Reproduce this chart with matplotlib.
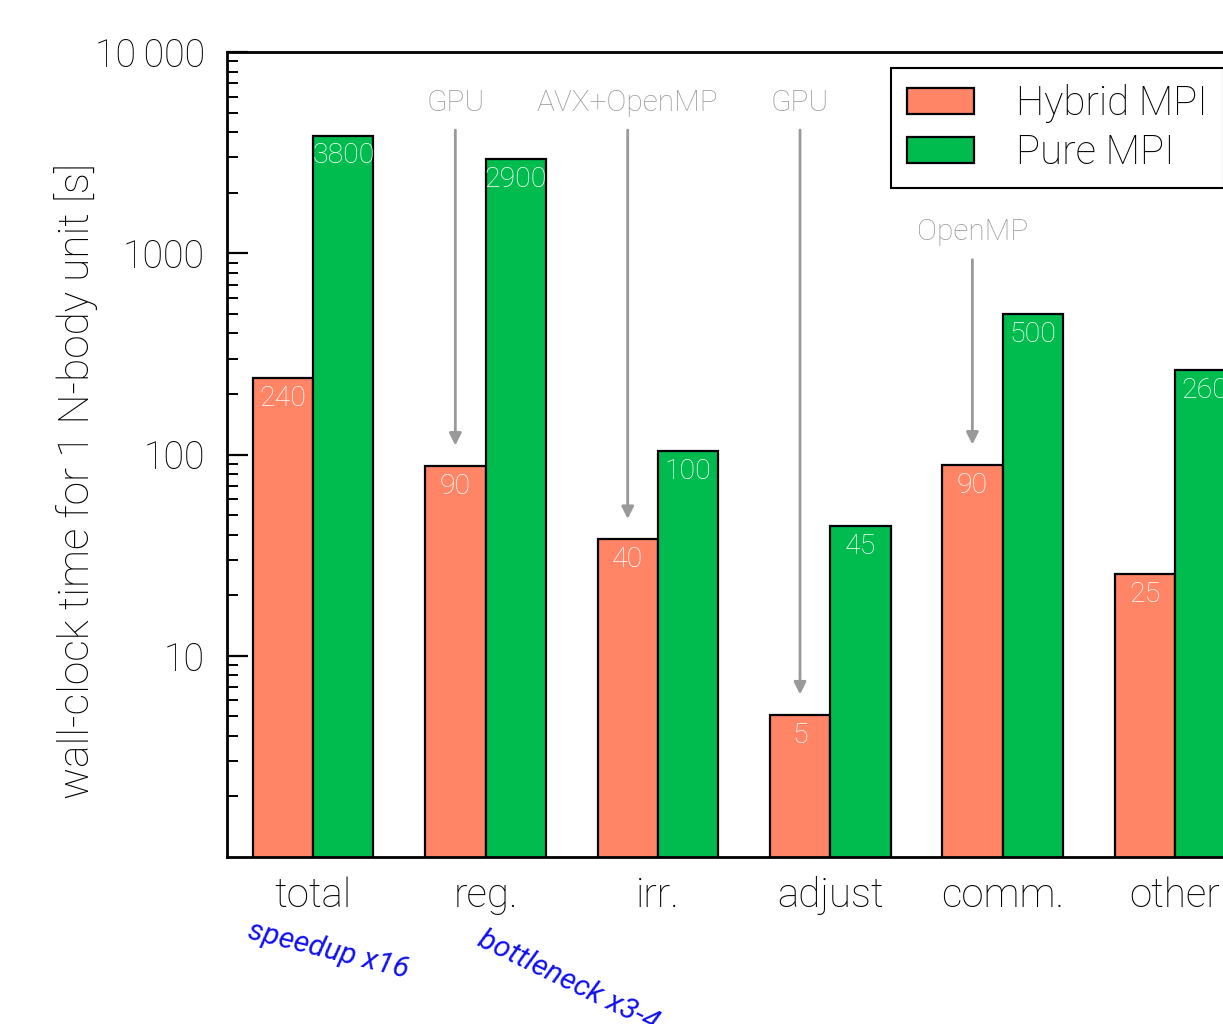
import numpy as np
import matplotlib
matplotlib.use("Agg")
import matplotlib.pyplot as plt
from matplotlib.ticker import FixedLocator, FixedFormatter, LogLocator, NullFormatter

# data
categories = ["total", "reg.", "irr.", "adjust", "comm.", "other"]
hybrid = [240, 88, 38, 5.1, 89, 25.5]
pure = [3850, 2950, 104, 44, 500, 262]
hybrid_labels = ["240", "90", "40", "5", "90", "25"]
pure_labels = ["3800", "2900", "100", "45", "500", "260"]

# optimisation notes: (category index, text, text height, arrow start)
notes = [(1, "GPU", 5600, 4100),
         (2, "AVX+OpenMP", 5600, 4100),
         (3, "GPU", 5600, 4100),
         (4, "OpenMP", 1280, 930)]

plt.rcParams['font.family'] = ['Roboto', 'DejaVu Sans']
plt.rcParams['font.weight'] = 'light'
plt.rcParams['axes.labelweight'] = 'light'

fig = plt.figure(figsize=(12.23, 10.24), dpi=100)
ax = fig.add_axes([0.1856, 0.1631, 0.8455, 0.786])

x = np.arange(len(categories))
w = 0.35
c_h = "#FF8566"
c_p = "#00BB4E"
ax.bar(x - w / 2, hybrid, w, color=c_h, edgecolor="black", lw=1.6,
       label="Hybrid MPI")
ax.bar(x + w / 2, pure, w, color=c_p, edgecolor="black", lw=1.6,
       label="Pure MPI")

ax.set_yscale("log")
ax.set_ylim(1, 10000)
ax.set_xlim(-0.5, 5.5)

for xi, v, s in zip(x - w / 2, hybrid, hybrid_labels):
    ax.annotate(s, (xi, v), xytext=(0, -5), textcoords="offset points",
                ha="center", va="top", color="white", fontsize=20.5)
for xi, v, s in zip(x + w / 2, pure, pure_labels):
    ax.annotate(s, (xi, v), xytext=(0, -5), textcoords="offset points",
                ha="center", va="top", color="white", fontsize=20.5)

for i, txt, ty, ya in notes:
    xi = i - w / 2
    ax.text(xi, ty, txt, ha="center", va="center", color="#999999", fontsize=21.5)
    ax.annotate("", xy=(xi, hybrid[i] * 1.26), xytext=(xi, ya),
                arrowprops=dict(arrowstyle="-|>", color="#999999", lw=2,
                                mutation_scale=18, shrinkA=0, shrinkB=0))

ax.yaxis.set_major_locator(FixedLocator([10, 100, 1000, 10000]))
ax.yaxis.set_major_formatter(FixedFormatter(["10", "100", "1000", "10\u2009000"]))
ax.yaxis.set_minor_locator(LogLocator(base=10, subs=np.arange(2, 10)))
ax.yaxis.set_minor_formatter(NullFormatter())
ax.tick_params(axis="y", which="major", direction="in", length=15, width=1.6,
               labelsize=27, pad=16)
ax.tick_params(axis="y", which="minor", direction="in", length=8, width=1.4)
ax.set_xticks(x)
ax.set_xticklabels(categories)
ax.tick_params(axis="x", length=0, labelsize=29, pad=14)
for sp in ax.spines.values():
    sp.set_linewidth(2)

ax.set_ylabel("wall-clock time for 1 N-body unit [s]", fontsize=30.5)
ax.yaxis.set_label_coords(-0.125, 0.467)

leg = ax.legend(loc="upper left", bbox_to_anchor=(0.642, 0.98), fontsize=29,
                fancybox=False, edgecolor="black", framealpha=1,
                borderaxespad=0, handlelength=1.66, handleheight=0.6,
                borderpad=0.4, labelspacing=0.26, handletextpad=1.04)
leg.get_frame().set_linewidth(1.5)

fig.text(248 / 1223, 1 - 930 / 1024, "speedup x16", color="#1010F0",
         fontsize=21.5, style="italic", weight="normal", rotation=-14,
         va="center", ha="left", rotation_mode="anchor")
fig.text(480 / 1223, 1 - 938 / 1024, "bottleneck x3-4", color="#1010F0",
         fontsize=21.5, style="italic", weight="normal", rotation=-26,
         va="center", ha="left", rotation_mode="anchor")

fig.savefig("out.png", dpi=100)
